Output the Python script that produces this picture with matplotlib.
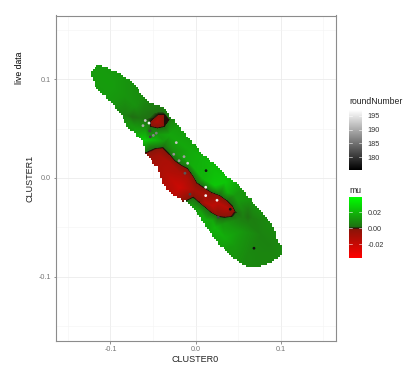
import matplotlib
matplotlib.use("Agg")
import matplotlib.pyplot as plt
import matplotlib.tri as mtri
from matplotlib.colors import LinearSegmentedColormap, Normalize
from matplotlib.patches import Polygon
import numpy as np

plt.rcParams["font.family"] = ["Liberation Sans", "DejaVu Sans"]

# mu: x, y, mu at spots across the map
field_x = [
    -.1300, -.1300, -.1124, -.1006, -.1265, -.0829, -.0594, -.1124, -.0982, -.0829, -.0712, -.1065, -.0912, -.0594,
    -.0453, -.0535, -.0441, -.0300, -.0418, -.0359, -.0535, -.0359, -.0535,
    -.0276, -.0418, -.0441, -.0594, -.0653, -.0747, -.0829, -.0712, -.0300, -.0618,
    -.0594, -.0712, -.0771, -.0476, -.0300, -.0182, -.0359,
    -.0582, -.0476, -.0382, -.0300, -.0241, -.0159, -.0088, -.0029, .0018, .0100, .0194, .0288, .0371, .0441, .0476,
    .0429, .0347, .0265, .0182, .0112, .0041, -.0029, -.0147,
    -.0535, -.0382, -.0241, -.0124, -.0006, .0088, .0229, .0382, .0500, .0559, .0500, .0347, .0194, .0053, -.0041, -.0135,
    -.0065, .0112, .0229, .0347, .0524, .0641, .0053, .0288, .0582, .0465,
    -.0418, -.0300, -.0182, -.0088, -.0006, .0112, .0265, .0382, .0382, .0194, .0112, -.0006, -.0182, -.0276, -.0359, -.0476,
    -.0594, -.0535, -.0418, -.0276, -.0182, -.0206,
    -.0065, .0112, .0229, .0347, .0112, .0312, .0524, .0465, .0582, .0582, .0735, .0876, .0759, .0618,
    .0618, .0618, .0676, .0559, .0700, .0876, .1053, .1112, .0818, .0935, .0465, .0312,
]
field_y = [
    .1195, .0993, .1216, .1175, .0841, .1094, .0912, .1043, .0942, .0841, .0739, .0739, .0588, .0790,
    .0577, .0577, .0648, .0588, .0648, .0648, .0486, .0517, .0517,
    .0588, .0729, .0436, .0486, .0608, .0618, .0638, .0507, .0689, .0689,
    .0385, .0436, .0385, .0385, .0436, .0537, .0355,
    .0263, .0304, .0314, .0243, .0182, .0132, .0101, .0030, -.0041, -.0091, -.0142, -.0172, -.0223, -.0284, -.0344,
    -.0395, -.0405, -.0395, -.0355, -.0304, -.0253, -.0203, -.0253,
    .0324, .0375, .0263, .0203, .0101, .0000, -.0071, -.0142, -.0223, -.0344, -.0425, -.0466, -.0436, -.0344, -.0284, -.0324,
    .0284, .0182, .0061, -.0041, -.0122, -.0223, .0385, .0182, .0000, -.0172,
    .0233, .0162, .0061, .0000, -.0122, -.0172, -.0253, -.0304, -.0365, -.0284, -.0253, -.0172, -.0101, -.0020, .0081, .0132,
    .0203, .0081, -.0071, -.0223, -.0182, -.0274,
    -.0375, -.0577, -.0507, -.0608, -.0425, -.0729, -.0547, -.0679, -.0810, -.0952, -.0780, -.0679, -.0577, -.0476,
    -.0395, -.0324, -.0405, -.0405, -.0274, -.0446, -.0628, -.0831, -.0983, -.0780, -.0851, -.0476,
]
field_mu = [
    .012, .012, .012, .012, .012, .011, .008, .013, .013, .011, .010, .012, .010, .007,
    -.014, 0, 0, 0, 0, 0, 0, 0, 0,
    .006, .004, .012, .012, .0025, .0008, .005, .012, .010, .005,
    .024, .017, .012, .019, .015, .012, .006,
    0, 0, 0, 0, 0, 0, 0, 0, 0, 0, 0, 0, 0, 0, 0,
    0, 0, 0, 0, 0, 0, 0, 0,
    .006, .012, .010, .015, .018, .019, .024, .018, .012, .006, .006, .012, .016, .014, .012, .014,
    .016, .019, .022, .024, .012, .010, .012, .018, .012, .012,
    -.010, -.012, -.012, -.012, -.010, -.012, -.017, -.016, -.006, -.018, -.014, -.006, -.022, -.018, -.013, -.010,
    -.006, -.008, -.012, -.014, -.012, -.008,
    .012, .014, .019, .017, .017, .012, .012, .012, .008, .008, .007, .006, .006, .006,
    .0012, .004, .005, .005, .010, .008, .008, .008, .007, .007, .010, .012,
]

# outline of the covered area
edge_x = [
    -.1151, -.1100, -.1006, -.0888, -.0794, -.0712, -.0653, -.0582, -.0535, -.0441, -.0382, -.0300, -.0218, -.0135,
    -.0065, -.0006, .0112, .0253, .0382, .0524, .0618, .0724, .0818, .0912, .0947, .0959, .0994, .1018, .1006, .0994,
    .0876, .0735, .0606, .0524, .0406, .0288, .0206, .0135, .0018, -.0100, -.0135, -.0241, -.0324, -.0394, -.0418,
    -.0441, -.0535, -.0594, -.0618, -.0712, -.0794, -.0853, -.0912, -.0971, -.1065, -.1159, -.1218, -.1229, -.1194,
]
edge_y = [
    .1145, .1124, .1094, .1054, .0993, .0932, .0861, .0790, .0760, .0739, .0709, .0628, .0537, .0456,
    .0385, .0314, .0213, .0111, .0010, -.0091, -.0192, -.0294, -.0395, -.0496, -.0577, -.0628, -.0689, -.0709, -.0770, -.0810,
    -.0861, -.0902, -.0902, -.0851, -.0770, -.0679, -.0577, -.0496, -.0344, -.0223, -.0233, -.0172, -.0111, -.0041, .0051,
    .0111, .0203, .0263, .0385, .0456, .0517, .0618, .0689, .0760, .0831, .0912, .1013, .1074, .1124,
]

# live data points
cluster0 = [.0124, .0688, .0120, .0120, .0253, .0409, .0268, -.0065, -.0124, -.0092, -.0194, -.0135, -.0256, -.0226,
            -.0547, -.0591, -.0618, -.0539, -.0532, -.0496, -.0461]
cluster1 = [.0074, -.0712, -.0094, -.0179, -.0226, -.0317, -.0398, -.0165, .0048, .0149, .0175, .0216, .0240, .0358,
            .0556, .0582, .0530, .0477, .0417, .0431, .0454]
round_number = [177, 177, 196, 196, 196, 177, 181, 181, 183, 193, 188, 189, 188, 192,
                196, 192, 190, 181, 181, 187, 186]

round_ticks = [180, 185, 190, 195]
mu_ticks = [-0.02, 0.0, 0.02]
round_range = (175.5, 197.0)
mu_range = (-0.0375, 0.039)

def frac(v):
    return (v - mu_range[0]) / (mu_range[1] - mu_range[0])

mu_cmap = LinearSegmentedColormap.from_list("mu", [
    (0.0, "#ff0000"),
    (frac(-0.0015), "#8a1408"),
    (frac(0.0), "#1c1008"),
    (frac(0.0015), "#1f7012"),
    (1.0, "#00ff00"),
], N=1024)
round_cmap = LinearSegmentedColormap.from_list("round", ["#000000", "#ffffff"])
mu_norm = Normalize(*mu_range)
round_norm = Normalize(*round_range)


def stair_outline(xs, ys, cell_x=0.0022, cell_y=0.0020):
    # the map is made of square cells, so its border goes in small steps
    px, py = [], []
    for i in range(len(xs)):
        x0, y0, x1, y1 = xs[i], ys[i], xs[(i + 1) % len(xs)], ys[(i + 1) % len(xs)]
        n = int(max(abs(x1 - x0) / cell_x, abs(y1 - y0) / cell_y)) + 1
        for k in range(n):
            sx = round((x0 + (x1 - x0) * k / n) / cell_x) * cell_x
            sy = round((y0 + (y1 - y0) * k / n) / cell_y) * cell_y
            if px:
                px.append(sx)
                py.append(py[-1])
            px.append(sx)
            py.append(sy)
    return np.column_stack([px, py])


fig = plt.figure(figsize=(4.17, 3.84), dpi=100)
W, H = 417, 384
ax = fig.add_axes([55.5 / W, 1 - 341 / H, 280 / W, 325.5 / H])
ax.set_xlim(-0.1647, 0.1647)
ax.set_ylim(-0.1652, 0.1646)

ax.set_xticks([-0.1, 0.0, 0.1])
ax.set_yticks([-0.1, 0.0, 0.1])
ax.set_xticks([-0.15, -0.05, 0.05, 0.15], minor=True)
ax.set_yticks([-0.15, -0.05, 0.05, 0.15], minor=True)
ax.set_xticklabels(["-0.1", "0.0", "0.1"])
ax.set_yticklabels(["-0.1", "0.0", "0.1"])
ax.grid(True, which="major", color="#ebebeb", lw=0.6)
ax.grid(True, which="minor", color="#f3f3f3", lw=0.4)
ax.set_axisbelow(True)
ax.tick_params(which="major", length=1.8, width=0.5, color="#666666", labelcolor="#777777", labelsize=5.2, pad=1.5)
ax.tick_params(which="minor", length=0)
for s in ax.spines.values():
    s.set_color("#8c8c8c")
    s.set_linewidth(0.8)

ax.set_xlabel("CLUSTER0", fontsize=6.5, color="#222222", labelpad=2)
ax.set_ylabel("CLUSTER1", fontsize=6.5, color="#222222", labelpad=3)
fig.text(20 / W, 1 - 68 / H, "live data", rotation=90, fontsize=6.2, color="black", ha="center", va="center")

tri = mtri.Triangulation(field_x, field_y)
levels = np.linspace(mu_range[0], mu_range[1], 300)
cs = ax.tricontourf(tri, field_mu, levels=levels, cmap=mu_cmap, norm=mu_norm, antialiased=False, zorder=2)
outline = Polygon(stair_outline(edge_x, edge_y), closed=True, transform=ax.transData, fc="none", ec="none")
ax.add_patch(outline)
cs.set_clip_path(outline)

ax.scatter(cluster0, cluster1, c=round_number, cmap=round_cmap, norm=round_norm, s=4, linewidths=0, zorder=3)


def colorbar(top, bottom, cmap, lo, hi, ticks, labels, title, title_y):
    cax = fig.add_axes([349 / W, 1 - bottom / H, 13 / W, (bottom - top) / H])
    grad = np.linspace(hi, lo, 256).reshape(-1, 1)
    cax.imshow(grad, aspect="auto", cmap=cmap, vmin=lo, vmax=hi, extent=[0, 1, lo, hi])
    cax.set_xticks([])
    cax.set_yticks(ticks)
    cax.set_yticklabels(labels)
    cax.yaxis.tick_right()
    cax.tick_params(axis="y", length=0, labelsize=5.2, labelcolor="#333333", pad=4)
    for t in ticks:
        cax.plot([0, 0.2], [t, t], color="white", lw=0.4)
        cax.plot([0.8, 1], [t, t], color="white", lw=0.4)
    cax.set_xlim(0, 1)
    cax.set_ylim(lo, hi)
    for s in cax.spines.values():
        s.set_visible(False)
    fig.text(349 / W, 1 - title_y / H, title, fontsize=6.2, color="#222222", ha="left", va="center")


colorbar(110, 170, round_cmap, round_range[0], round_range[1], round_ticks,
         [str(t) for t in round_ticks], "roundNumber", 101)
colorbar(197, 258, mu_cmap, mu_range[0], mu_range[1], mu_ticks,
         ["-0.02", "0.00", "0.02"], "mu", 190)

fig.savefig("out.png", dpi=100)
